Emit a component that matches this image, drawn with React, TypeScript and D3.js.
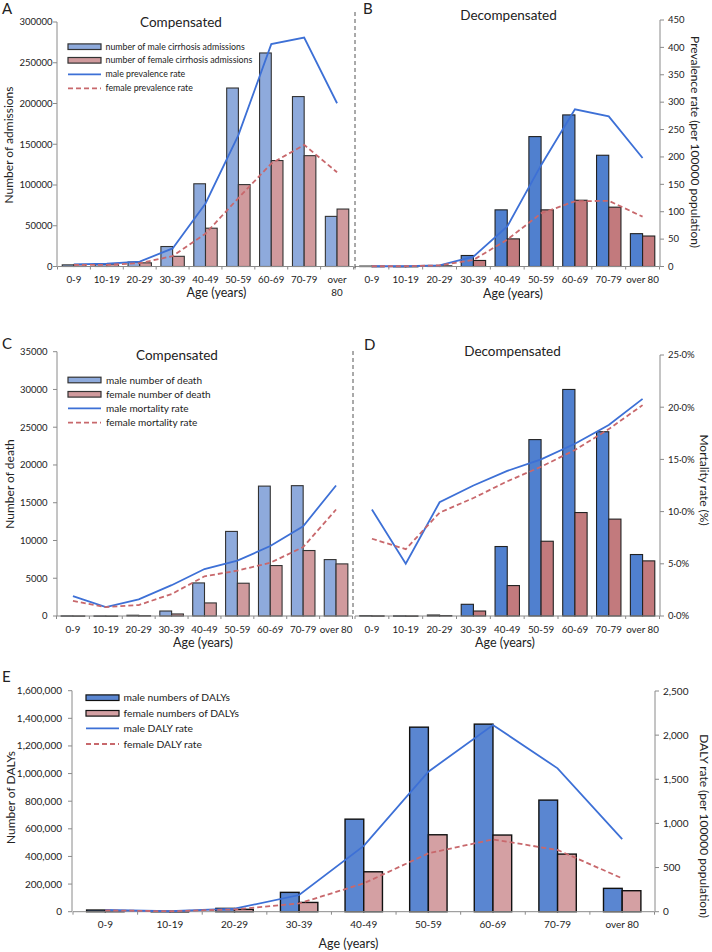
import React from "react";
import * as d3 from "d3";

const ageGroups = ["0-9", "10-19", "20-29", "30-39", "40-49", "50-59", "60-69", "70-79", "over 80"];

// Panel A – compensated admissions / prevalence
const compMaleAdmissions = [2000, 2500, 5500, 24500, 101500, 219000, 262000, 208500, 61500];
const compFemaleAdmissions = [2500, 3000, 4500, 12500, 47000, 100500, 130000, 136000, 70500];
const compMalePrevalence = [4, 5, 9, 33, 115, 240, 406, 418, 298];
const compFemalePrevalence = [3, 3, 6, 19, 60, 125, 188, 222, 172];

// Panel B – decompensated admissions / prevalence
const decompMaleAdmissions = [500, 200, 1200, 13500, 69500, 159400, 186000, 136500, 40300];
const decompFemaleAdmissions = [300, 200, 800, 7400, 33900, 69500, 81300, 72800, 37400];
const decompMalePrevalence = [0.5, 0.5, 2, 18, 73, 185, 287, 274, 198];
const decompFemalePrevalence = [0.5, 0.5, 2, 12, 49, 97, 119, 120, 91];

// Panel C – compensated deaths / mortality (%)
const compMaleDeaths = [30, 20, 100, 660, 4380, 11200, 17200, 17260, 7470];
const compFemaleDeaths = [20, 10, 50, 270, 1730, 4340, 6680, 8670, 6900];
const compMaleMortality = [1.9, 0.85, 1.6, 2.95, 4.5, 5.3, 6.7, 8.6, 12.5];
const compFemaleMortality = [1.45, 0.85, 1.05, 2.1, 3.8, 4.35, 5.1, 6.6, 10.2];

// Panel D – decompensated deaths / mortality (%)
const decompMaleDeaths = [50, 30, 130, 1550, 9200, 23360, 30000, 24400, 8140];
const decompFemaleDeaths = [30, 20, 60, 660, 4030, 9900, 13700, 12830, 7300];
const decompMaleMortality = [10.2, 5.0, 10.9, 12.5, 13.9, 15.0, 16.5, 18.3, 20.8];
const decompFemaleMortality = [7.4, 6.4, 9.9, 11.3, 12.9, 14.3, 15.9, 17.9, 20.2];

// Panel E – DALYs
const maleDALYs = [12000, 3000, 24000, 140000, 670000, 1336000, 1358000, 808000, 169000];
const femaleDALYs = [7000, 2000, 17000, 67000, 289000, 557000, 555000, 417000, 152000];
const maleDALYRate = [19, 5, 34, 189, 745, 1586, 2115, 1624, 823];
const femaleDALYRate = [15, 5, 26, 94, 321, 661, 819, 699, 378];

// Tick values
const admissionTicks = [0, 50000, 100000, 150000, 200000, 250000, 300000];
const prevalenceTicks = [0, 50, 100, 150, 200, 250, 300, 350, 400, 450];
const deathTicks = [0, 5000, 10000, 15000, 20000, 25000, 30000, 35000];
const mortalityTicks = [0, 5, 10, 15, 20, 25];
const dalyTicks = [0, 200000, 400000, 600000, 800000, 1000000, 1200000, 1400000, 1600000];
const dalyRateTicks = [0, 500, 1000, 1500, 2000, 2500];

const FONT = "Lato, Carlito, 'Open Sans', sans-serif";
const MALE_LINE = "#3d70d6";
const FEMALE_LINE = "#c8686c";
const TEXT = "#222";
const AXIS = "#8a8a8a";

const fmtComma = d3.format(",");
const fmtPlain = (v: number) => String(v);
const fmtPct = (v: number) => v.toFixed(1).replace(".", "\u00b7") + "%";

interface BarPanelProps {
  x0: number;
  x1: number;
  yLeft: d3.ScaleLinear<number, number>;
  yRight: d3.ScaleLinear<number, number>;
  maleBars: number[];
  femaleBars: number[];
  maleLine: number[];
  femaleLine: number[];
  barW: number;
  maleFill: string;
  femaleFill: string;
  stroke: string;
  strokeW: number;
  labelY: number;
  labelSize: number;
  wrapLast?: boolean;
}

function BarPanel(p: BarPanelProps) {
  const x = d3.scaleBand<string>().domain(ageGroups).range([p.x0, p.x1]).padding(0);
  const bw = x.bandwidth();
  const cx = (i: number) => (x(ageGroups[i]) as number) + bw / 2;
  const base = p.yLeft(0);
  const line = d3
    .line<number>()
    .x((_, i) => cx(i))
    .y((d) => p.yRight(d));
  return (
    <g>
      {ageGroups.map((g, i) => {
        const ym = p.yLeft(p.maleBars[i]);
        const yf = p.yLeft(p.femaleBars[i]);
        return (
          <g key={g}>
            <rect x={cx(i) - p.barW} y={ym} width={p.barW} height={Math.max(0.5, base - ym)} fill={p.maleFill} stroke={p.stroke} strokeWidth={p.strokeW} />
            <rect x={cx(i)} y={yf} width={p.barW} height={Math.max(0.5, base - yf)} fill={p.femaleFill} stroke={p.stroke} strokeWidth={p.strokeW} />
          </g>
        );
      })}
      <line x1={p.x0} x2={p.x1} y1={base} y2={base} stroke={AXIS} strokeWidth={1} />
      {d3.range(ageGroups.length + 1).map((i) => (
        <line key={i} x1={p.x0 + i * bw} x2={p.x0 + i * bw} y1={base} y2={base + 3} stroke={AXIS} strokeWidth={1} />
      ))}
      <path d={line(p.maleLine) || ""} fill="none" stroke={MALE_LINE} strokeWidth={1.8} />
      <path d={line(p.femaleLine) || ""} fill="none" stroke={FEMALE_LINE} strokeWidth={1.8} strokeDasharray="5,3" />
      {ageGroups.map((g, i) => {
        if (p.wrapLast && i === ageGroups.length - 1) {
          return (
            <text key={g} x={cx(i)} y={p.labelY} textAnchor="middle" fontSize={p.labelSize} fill={TEXT}>
              <tspan x={cx(i)}>over</tspan>
              <tspan x={cx(i)} dy="1.35em">80</tspan>
            </text>
          );
        }
        return (
          <text key={g} x={cx(i)} y={p.labelY} textAnchor="middle" fontSize={p.labelSize} fill={TEXT}>
            {g}
          </text>
        );
      })}
    </g>
  );
}

interface AxisProps {
  x: number;
  scale: d3.ScaleLinear<number, number>;
  ticks: number[];
  fmt: (v: number) => string;
  side: "left" | "right";
  labelX: number;
  fontSize: number;
}

function YAxis(a: AxisProps) {
  const [lo, hi] = [a.scale(a.ticks[0]), a.scale(a.ticks[a.ticks.length - 1])];
  const dir = a.side === "left" ? -1 : 1;
  return (
    <g>
      <line x1={a.x} x2={a.x} y1={lo} y2={hi} stroke={AXIS} strokeWidth={1} />
      {a.ticks.map((t) => (
        <g key={t}>
          <line x1={a.x} x2={a.x + dir * 4} y1={a.scale(t)} y2={a.scale(t)} stroke={AXIS} strokeWidth={1} />
          <text
            x={a.labelX}
            y={a.scale(t)}
            dy="0.35em"
            textAnchor={a.side === "left" ? "end" : "start"}
            fontSize={a.fontSize}
            fill={TEXT}
          >
            {a.fmt(t)}
          </text>
        </g>
      ))}
    </g>
  );
}

function LegendBlock({ x, ys, textX, labels, maleFill, femaleFill, stroke, fontSize }: { x: number; ys: number[]; textX: number; labels: string[]; maleFill: string; femaleFill: string; stroke: string; fontSize: number }) {
  const w = 33;
  return (
    <g>
      <rect x={x} y={ys[0] - 2.8} width={w} height={5.6} fill={maleFill} stroke={stroke} strokeWidth={1.2} />
      <rect x={x} y={ys[1] - 2.8} width={w} height={5.6} fill={femaleFill} stroke={stroke} strokeWidth={1.2} />
      <line x1={x} x2={x + w} y1={ys[2]} y2={ys[2]} stroke={MALE_LINE} strokeWidth={1.8} />
      <line x1={x} x2={x + w} y1={ys[3]} y2={ys[3]} stroke={FEMALE_LINE} strokeWidth={1.8} strokeDasharray="5,3" />
      {labels.map((l, i) => (
        <text key={l} x={textX} y={ys[i]} dy="0.35em" fontSize={fontSize} fill={TEXT}>
          {l}
        </text>
      ))}
    </g>
  );
}

export default function App() {
  // Row 1 (A, B)
  const yAdm = d3.scaleLinear().domain([0, 300000]).range([266.5, 22]);
  const yPrev = d3.scaleLinear().domain([0, 450]).range([266.5, 20]);
  // Row 2 (C, D)
  const yDeath = d3.scaleLinear().domain([0, 35000]).range([616, 351.7]);
  const yMort = d3.scaleLinear().domain([0, 25]).range([616, 355]);
  // Row 3 (E)
  const yDaly = d3.scaleLinear().domain([0, 1600000]).range([911.7, 690.7]);
  const yDalyRate = d3.scaleLinear().domain([0, 2500]).range([911.7, 691]);

  const lightBlue = "#8eaadc";
  const lightPink = "#d09a9d";
  const blue = "#5080cf";
  const pink = "#c27a7d";

  return (
    <svg width={712} height={952} style={{ position: "absolute", left: 0, top: 0, display: "block", background: "#fff" }} fontFamily={FONT}>
      <rect x={0} y={0} width={712} height={952} fill="#fff" />

      {/* ===== Row 1 ===== */}
      <text x={2} y={14} fontSize={15} fill={TEXT}>A</text>
      <text x={363} y={14} fontSize={15} fill={TEXT}>B</text>
      <text x={181} y={26.5} textAnchor="middle" fontSize={13.5} fill={TEXT}>Compensated</text>
      <text x={508.5} y={20} textAnchor="middle" fontSize={13.5} fill={TEXT}>Decompensated</text>

      <YAxis x={57} scale={yAdm} ticks={admissionTicks} fmt={fmtPlain} side="left" labelX={52.5} fontSize={9.5} />
      <YAxis x={660} scale={yPrev} ticks={prevalenceTicks} fmt={fmtPlain} side="right" labelX={668} fontSize={9.5} />

      <BarPanel x0={57.5} x1={353.5} yLeft={yAdm} yRight={yPrev}
        maleBars={compMaleAdmissions} femaleBars={compFemaleAdmissions}
        maleLine={compMalePrevalence} femaleLine={compFemalePrevalence}
        barW={11.7} maleFill={lightBlue} femaleFill={lightPink} stroke="#333" strokeW={1.1}
        labelY={283} labelSize={9.8} wrapLast />
      <BarPanel x0={355} x1={659.5} yLeft={yAdm} yRight={yPrev}
        maleBars={decompMaleAdmissions} femaleBars={decompFemaleAdmissions}
        maleLine={decompMalePrevalence} femaleLine={decompFemalePrevalence}
        barW={12.2} maleFill={blue} femaleFill={pink} stroke="#222" strokeW={1.1}
        labelY={283} labelSize={9.8} />

      <line x1={355} x2={355} y1={12} y2={268} stroke="#555" strokeWidth={1} strokeDasharray="4,3" />

      <LegendBlock x={68} ys={[46.7, 60.3, 74.3, 88.3]} textX={105.5}
        labels={["number of male cirrhosis admissions", "number of female cirrhosis admissions", "male prevalence rate", "female prevalence rate"]}
        maleFill={lightBlue} femaleFill={lightPink} stroke="#333" fontSize={8.8} />

      <text transform="translate(13,145) rotate(-90)" textAnchor="middle" fontSize={12} fill={TEXT}>Number of admissions</text>
      <text transform="translate(691,142) rotate(90)" textAnchor="middle" fontSize={12} fill={TEXT}>Prevalence rate (per 100000 population)</text>
      <text x={216.5} y={296.5} textAnchor="middle" fontSize={12.5} fill={TEXT}>Age (years)</text>
      <text x={513} y={297.5} textAnchor="middle" fontSize={12.5} fill={TEXT}>Age (years)</text>

      {/* ===== Row 2 ===== */}
      <text x={2} y={349} fontSize={15} fill={TEXT}>C</text>
      <text x={364} y={350} fontSize={15} fill={TEXT}>D</text>
      <text x={177} y={360} textAnchor="middle" fontSize={13.5} fill={TEXT}>Compensated</text>
      <text x={512.5} y={355.5} textAnchor="middle" fontSize={13.5} fill={TEXT}>Decompensated</text>

      <YAxis x={57} scale={yDeath} ticks={deathTicks} fmt={fmtPlain} side="left" labelX={47.5} fontSize={9.5} />
      <YAxis x={660} scale={yMort} ticks={mortalityTicks} fmt={fmtPct} side="right" labelX={668} fontSize={9.5} />

      <BarPanel x0={56.5} x1={352.5} yLeft={yDeath} yRight={yMort}
        maleBars={compMaleDeaths} femaleBars={compFemaleDeaths}
        maleLine={compMaleMortality} femaleLine={compFemaleMortality}
        barW={11.8} maleFill={lightBlue} femaleFill={lightPink} stroke="#333" strokeW={1.1}
        labelY={632.5} labelSize={9.8} />
      <BarPanel x0={355} x1={659.5} yLeft={yDeath} yRight={yMort}
        maleBars={decompMaleDeaths} femaleBars={decompFemaleDeaths}
        maleLine={decompMaleMortality} femaleLine={decompFemaleMortality}
        barW={12.2} maleFill={blue} femaleFill={pink} stroke="#222" strokeW={1.1}
        labelY={632.5} labelSize={9.8} />

      <line x1={353} x2={353} y1={351} y2={617} stroke="#555" strokeWidth={1} strokeDasharray="4,3" />

      <LegendBlock x={68} ys={[380, 394.3, 408.3, 422.7]} textX={106}
        labels={["male number of death", "female number of death", "male mortality rate", "female mortality rate"]}
        maleFill={lightBlue} femaleFill={lightPink} stroke="#333" fontSize={10} />

      <text transform="translate(14,484) rotate(-90)" textAnchor="middle" fontSize={12} fill={TEXT}>Number of death</text>
      <text transform="translate(700,480) rotate(90)" textAnchor="middle" fontSize={12} fill={TEXT}>Mortality rate (%)</text>
      <text x={203} y={647} textAnchor="middle" fontSize={12.5} fill={TEXT}>Age (years)</text>
      <text x={505} y={647} textAnchor="middle" fontSize={12.5} fill={TEXT}>Age (years)</text>

      {/* ===== Row 3 ===== */}
      <text x={2} y={682} fontSize={15} fill={TEXT}>E</text>

      <YAxis x={72} scale={yDaly} ticks={dalyTicks} fmt={fmtComma} side="left" labelX={62} fontSize={10} />
      <YAxis x={655} scale={yDalyRate} ticks={dalyRateTicks} fmt={fmtComma} side="right" labelX={663} fontSize={10} />

      <BarPanel x0={73} x1={654.5} yLeft={yDaly} yRight={yDalyRate}
        maleBars={maleDALYs} femaleBars={femaleDALYs}
        maleLine={maleDALYRate} femaleLine={femaleDALYRate}
        barW={18.7} maleFill="#5a86d1" femaleFill="#d4a0a3" stroke="#111" strokeW={1.4}
        labelY={928} labelSize={10} />

      <LegendBlock x={86} ys={[697.7, 713.3, 728.3, 744]} textX={123.5}
        labels={["male numbers of DALYs", "female numbers of DALYs", "male DALY rate", "female DALY rate"]}
        maleFill="#5a86d1" femaleFill="#d4a0a3" stroke="#111" fontSize={10.3} />

      <text transform="translate(15,797.5) rotate(-90)" textAnchor="middle" fontSize={12} fill={TEXT}>Number of DALYs</text>
      <text transform="translate(700,826) rotate(90)" textAnchor="middle" fontSize={12} fill={TEXT}>DALY rate (per 100000 population)</text>
      <text x={348.5} y={948} textAnchor="middle" fontSize={12.5} fill={TEXT}>Age (years)</text>
    </svg>
  );
}
